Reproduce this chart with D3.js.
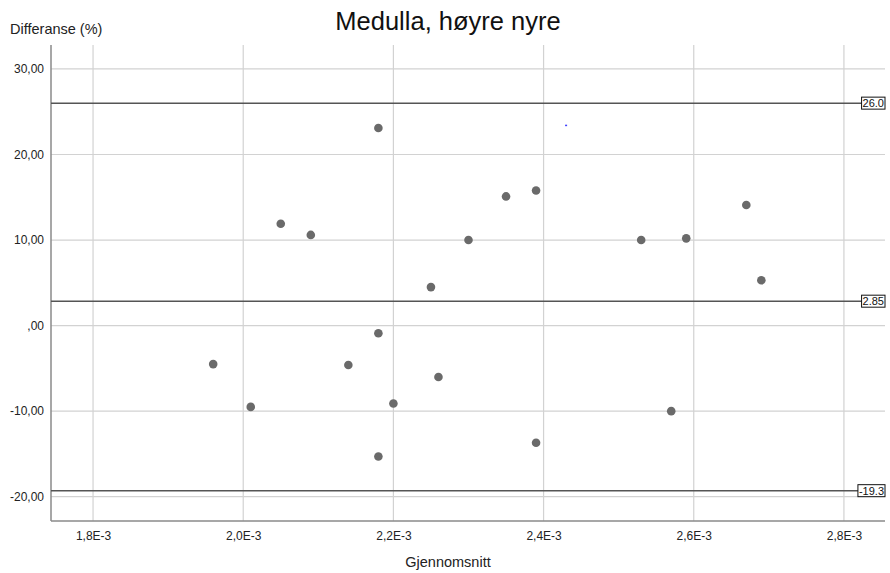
<!DOCTYPE html>
<html>
<head>
<meta charset="utf-8">
<script src="https://cdn.jsdelivr.net/npm/d3@7"></script>
<style>
  html, body { margin: 0; padding: 0; background: #fff; }
  svg { display: block; font-family: "Liberation Sans", Arial, Helvetica, sans-serif; }
</style>
</head>
<body>
<svg width="890" height="573"></svg>
<script>
(function (d3) {
    'use strict';

    // mean values (x) and differences in % (y)
    const meanValues = [1.96e-3, 2.01e-3, 2.05e-3, 2.09e-3, 2.14e-3, 2.18e-3, 2.18e-3, 2.18e-3,
                        2.20e-3, 2.25e-3, 2.26e-3, 2.30e-3, 2.35e-3, 2.39e-3, 2.39e-3,
                        2.53e-3, 2.57e-3, 2.59e-3, 2.67e-3, 2.69e-3];
    const diffValues = [-4.5, -9.5, 11.9, 10.6, -4.6, 23.1, -0.9, -15.3,
                        -9.1, 4.5, -6.0, 10.0, 15.1, 15.8, -13.7,
                        10.0, -10.0, 10.2, 14.1, 5.3];

    // limits of agreement and mean difference
    const refValues = [26.0, 2.85, -19.3];
    const refLabels = ['26.0', '2.85', '-19.3'];

    const xTicks = [1.8e-3, 2.0e-3, 2.2e-3, 2.4e-3, 2.6e-3, 2.8e-3];
    const xTickLabels = ['1,8E-3', '2,0E-3', '2,2E-3', '2,4E-3', '2,6E-3', '2,8E-3'];
    const yTicks = [30, 20, 10, 0, -10, -20];
    const yTickLabels = ['30,00', '20,00', '10,00', ',00', '-10,00', '-20,00'];

    // stray blue marker in the original
    const strayMark = [[2.43e-3, 23.4]];

    const svg = d3.select('svg');
    const margin = { top: 45, right: 5, bottom: 52, left: 51 };
    const width = 890, height = 573;
    const innerWidth = width - margin.left - margin.right;
    const innerHeight = height - margin.top - margin.bottom;

    const x = d3.scaleLinear().domain([1.744e-3, 2.8547e-3]).range([0, innerWidth]);
    const y = d3.scaleLinear().domain([-22.84, 32.8]).range([innerHeight, 0]);

    const g = svg.append('g')
        .attr('transform', `translate(${margin.left}, ${margin.top})`);

    // grid
    g.selectAll('.vgrid').data(xTicks)
        .enter().append('line')
            .attr('x1', d => x(d)).attr('x2', d => x(d))
            .attr('y1', 0).attr('y2', innerHeight)
            .attr('stroke', '#d2d2d2').attr('stroke-width', 1.2);
    g.selectAll('.hgrid').data(yTicks)
        .enter().append('line')
            .attr('x1', 0).attr('x2', innerWidth)
            .attr('y1', d => y(d)).attr('y2', d => y(d))
            .attr('stroke', '#d2d2d2').attr('stroke-width', 1.2);

    // axes
    const xAxis = g.append('g')
        .attr('transform', `translate(0, ${innerHeight})`)
        .call(d3.axisBottom(x).tickValues(xTicks).tickSize(0)
            .tickFormat((d, i) => xTickLabels[i]));
    xAxis.select('.domain').attr('stroke', '#8a8a8a').attr('stroke-width', 1.5)
        .attr('d', `M0,0H${innerWidth}`);
    xAxis.selectAll('text').attr('dy', '1.35em').attr('font-size', 12)
        .attr('fill', '#222').attr('font-family', 'Liberation Sans, Arial, sans-serif');

    const yAxis = g.append('g')
        .call(d3.axisLeft(y).tickValues(yTicks).tickSize(0)
            .tickFormat((d, i) => yTickLabels[i]));
    yAxis.select('.domain').attr('stroke', '#8a8a8a').attr('stroke-width', 1.5)
        .attr('d', `M0,0V${innerHeight}`);
    yAxis.selectAll('text').attr('dx', '-4').attr('font-size', 12)
        .attr('fill', '#222').attr('font-family', 'Liberation Sans, Arial, sans-serif');

    // reference lines with boxed labels
    const ref = g.selectAll('.ref').data(refValues)
        .enter().append('g');
    ref.append('line')
        .attr('x1', 0).attr('x2', innerWidth - 20)
        .attr('y1', d => y(d)).attr('y2', d => y(d))
        .attr('stroke', '#555').attr('stroke-width', 1.5);
    const refText = ref.append('text')
        .attr('x', innerWidth - 1)
        .attr('y', d => y(d))
        .attr('dy', '0.36em')
        .attr('text-anchor', 'end')
        .attr('font-size', 11)
        .attr('fill', '#111')
        .text((d, i) => refLabels[i]);
    refText.each(function () {
        const b = this.getBBox();
        d3.select(this.parentNode).insert('rect', 'text')
            .attr('x', b.x - 1).attr('y', b.y)
            .attr('width', b.width + 2).attr('height', b.height)
            .attr('fill', '#fff').attr('stroke', '#111').attr('stroke-width', 1);
    });

    // points
    g.selectAll('circle').data(meanValues)
        .enter().append('circle')
            .attr('cx', d => x(d))
            .attr('cy', (d, i) => y(diffValues[i]))
            .attr('r', 4.3)
            .attr('fill', '#6a6a6a');

    g.selectAll('.stray').data(strayMark)
        .enter().append('rect')
            .attr('x', d => x(d[0]) - 1).attr('y', d => y(d[1]) - 0.75)
            .attr('width', 2).attr('height', 1.5)
            .attr('fill', '#4040ff');

    // titles
    svg.append('text')
        .attr('x', 448).attr('y', 30)
        .attr('text-anchor', 'middle')
        .attr('font-size', 25.5)
        .attr('fill', '#111')
        .text('Medulla, høyre nyre');
    svg.append('text')
        .attr('x', 10).attr('y', 34)
        .attr('font-size', 14.5)
        .attr('fill', '#222')
        .text('Differanse (%)');
    svg.append('text')
        .attr('x', 448).attr('y', 567)
        .attr('text-anchor', 'middle')
        .attr('font-size', 14.5)
        .attr('fill', '#222')
        .text('Gjennomsnitt');
}(d3));
</script>
</body>
</html>
